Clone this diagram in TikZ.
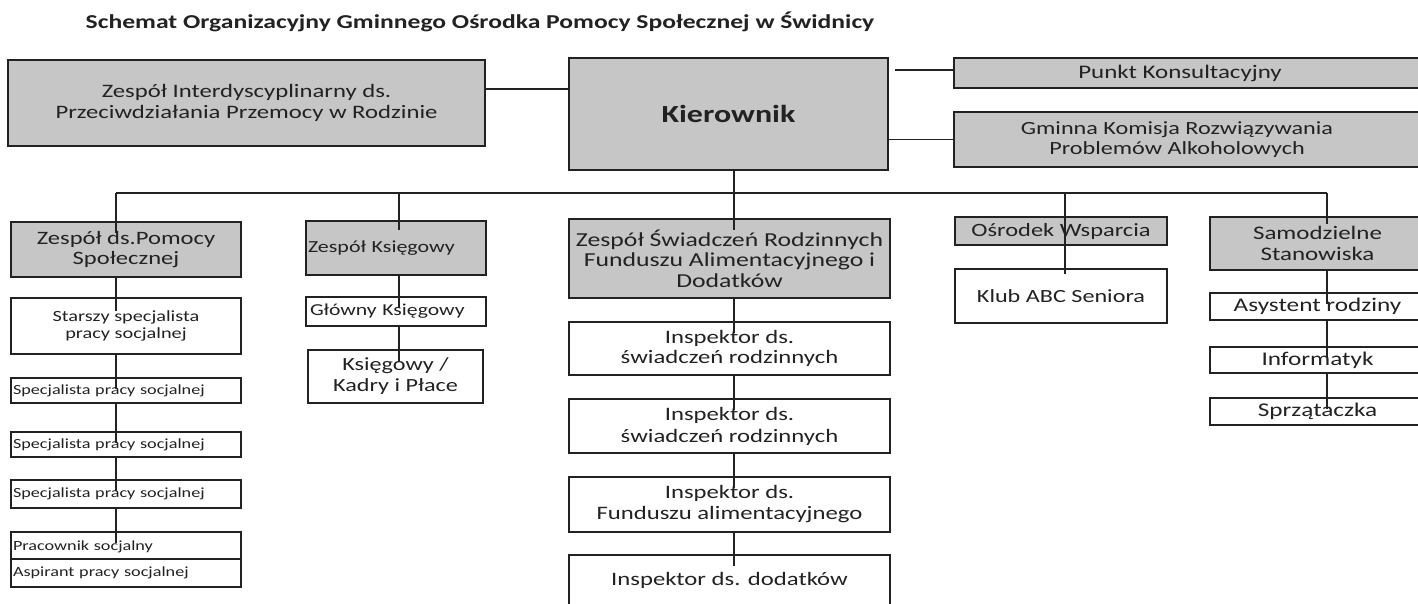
\documentclass[tikz,border=0pt]{standalone}
\usepackage{fontspec}
\setmainfont{Carlito}[FakeStretch=1.3]
\usetikzlibrary{calc}
\newcommand\fz[2]{\fontsize{#1}{#2}\selectfont}
\definecolor{boxgray}{RGB}{198,198,198}
\definecolor{ink}{RGB}{34,34,34}
\tikzset{
  box/.style={draw=ink, line width=2.8pt, inner sep=0pt, align=center, text=ink},
  gbox/.style={box, fill=boxgray},
  wbox/.style={box, fill=white},
  lbox/.style={wbox, align=left, inner xsep=2pt},
  conn/.style={draw=ink, line width=1.3pt},
}
\begin{document}
\begin{tikzpicture}[x=1pt,y=-1pt]
\useasboundingbox (0,0) rectangle (1418,604);
\clip (0,0) rectangle (1418,604);
\fill[white] (0,0) rectangle (1418,604);
\node[text=ink, font={\fz{19.7}{22}\bfseries}] (title) at (480,22) {Schemat Organizacyjny Gminnego Ośrodka Pomocy Społecznej w Świdnicy};

% top row
\node[gbox, minimum width=477pt, minimum height=86pt, font={\fz{19}{21}}] (zi) at (246.5,103) {Zespół Interdyscyplinarny ds.\\Przeciwdziałania Przemocy w Rodzinie};
\node[gbox, minimum width=319pt, minimum height=112pt, font={\fz{24.6}{28}\bfseries}] (kier) at (728.5,114) {Kierownik};
\node[gbox, minimum width=470pt, minimum height=30pt, font={\fz{19.2}{22}}] (pk) at (1189,73) {\hspace*{-18pt}Punkt Konsultacyjny};
\node[gbox, minimum width=470pt, minimum height=55pt, font={\fz{18.6}{20}}] (gk) at (1189,139.5) {\hspace*{-24pt}Gminna Komisja Rozwiązywania\\\hspace*{-24pt}Problemów Alkoholowych};

% column 1
\node[gbox, minimum width=230pt, minimum height=55pt, font={\fz{18.9}{20}}] (zdsp) at (126,249.5) {Zespół ds.Pomocy\\Społecznej};
\node[wbox, minimum width=230pt, minimum height=56pt, font={\fz{15.6}{17}}] (star) at (126,326) {Starszy specjalista\\pracy socjalnej};
\node[lbox, text width=226pt, minimum height=25pt, font={\fz{14}{16}}] (sp1) at (126,390.5) {Specjalista pracy socjalnej};
\node[lbox, text width=226pt, minimum height=25pt, font={\fz{14}{16}}] (sp2) at (126,444.5) {Specjalista pracy socjalnej};
\node[lbox, text width=226pt, minimum height=28pt, font={\fz{14}{16}}] (sp3) at (126,494) {Specjalista pracy socjalnej};
\node[lbox, text width=226pt, minimum height=55pt, font={\fz{14}{26}}] (prac) at (126,559.5) {Pracownik socjalny\\Aspirant pracy socjalnej};
\draw[draw=ink, line width=2pt] ($(prac.west)+(0,-1)$) -- ($(prac.east)+(0,-1)$);

% column 2
\node[gbox, align=left, inner xsep=2pt, text width=176pt, minimum height=54pt, font={\fz{16.9}{19}}] (zk) at (396,248) {Zespół Księgowy};
\node[lbox, inner xsep=4pt, text width=172pt, minimum height=29pt, font={\fz{16.7}{19}}] (glk) at (396,311.5) {Główny Księgowy};
\node[wbox, minimum width=175pt, minimum height=53pt, font={\fz{18.6}{21}}] (kkp) at (395.5,376.5) {Księgowy /\\Kadry i Płace};

% column 3
\node[gbox, minimum width=321pt, minimum height=79pt, font={\fz{19.8}{20.5}}] (zsr) at (729.5,258.5) {Zespół Świadczeń Rodzinnych\\Funduszu Alimentacyjnego i\\Dodatków};
\node[wbox, minimum width=321pt, minimum height=53pt, font={\fz{19}{20}}] (i1) at (729.5,348.5) {Inspektor ds.\\świadczeń rodzinnych};
\node[wbox, minimum width=321pt, minimum height=54pt, font={\fz{19}{22}}] (i2) at (729.5,426) {Inspektor ds.\\świadczeń rodzinnych};
\node[wbox, minimum width=321pt, minimum height=55pt, font={\fz{19}{21}}] (i3) at (729.5,504.5) {Inspektor ds.\\Funduszu alimentacyjnego};
\node[wbox, minimum width=321pt, minimum height=54pt, font={\fz{19}{21}}] (i4) at (729.5,582) {\raisebox{6pt}{Inspektor ds. dodatków}};

% column 4
\node[gbox, minimum width=212pt, minimum height=28pt, font={\fz{18.8}{21}}] (osw) at (1061,231) {Ośrodek Wsparcia};
\node[wbox, minimum width=212pt, minimum height=54pt, font={\fz{18.6}{21}}] (klub) at (1061,296) {Klub ABC Seniora};

% column 5
\node[gbox, minimum width=215pt, minimum height=53pt, font={\fz{19.2}{21}}] (samo) at (1317.5,243.5) {Samodzielne\\Stanowiska};
\node[wbox, minimum width=215pt, minimum height=27pt, font={\fz{19.4}{21}}] (asy) at (1317.5,306.5) {Asystent rodziny};
\node[wbox, minimum width=215pt, minimum height=26pt, font={\fz{19.4}{21}}] (inf) at (1317.5,360) {Informatyk};
\node[wbox, minimum width=215pt, minimum height=27pt, font={\fz{19.4}{21}}] (spr) at (1317.5,411.5) {Sprzątaczka};

% bus coordinates
\coordinate (h1) at (0,89);
\coordinate (b1) at (116,193);
\coordinate (b2) at (399,193);
\coordinate (b3) at (734,193);
\coordinate (b4) at (1065,193);
\coordinate (b5) at (1327,193);

% top connectors
\draw[conn] (zi.east |- h1) -- (kier.west |- h1);
\draw[conn] ($(kier.east |- pk.west)+(6,-3)$) -- ($(pk.west)+(0,-3)$);
\draw[conn] (kier.east |- gk.west) -- (gk.west);
\draw[conn] (kier.south -| b3) -- (b3);
\draw[conn] (b1) -- (b5);

% drops
\draw[conn] (b1) -- ($(zdsp.north -| b1)+(0,12)$);
\draw[conn] (b2) -- ($(zk.north -| b2)+(0,10)$);
\draw[conn] (b3) -- ($(zsr.north -| b3)+(0,12)$);
\draw[conn] (b4) -- ($(klub.north -| b4)+(0,6)$);
\draw[conn] (b5) -- ($(samo.north -| b5)+(0,8)$);

% column 1 chain
\draw[conn] (zdsp.south -| b1) -- ($(star.north -| b1)+(0,14)$);
\draw[conn] (star.south -| b1) -- ($(sp1.north -| b1)+(0,12)$);
\draw[conn] (sp1.south -| b1) -- ($(sp2.north -| b1)+(0,12)$);
\draw[conn] (sp2.south -| b1) -- ($(sp3.north -| b1)+(0,12)$);
\draw[conn] (sp3.south -| b1) -- ($(prac.north -| b1)+(0,12)$);

% column 2 chain
\draw[conn] (zk.south -| b2) -- ($(glk.north -| b2)+(0,12)$);
\draw[conn] (glk.south -| b2) -- ($(kkp.north -| b2)+(0,12)$);

% column 3 chain
\draw[conn] (zsr.south -| b3) -- ($(i1.north -| b3)+(0,12)$);
\draw[conn] (i1.south -| b3) -- ($(i2.north -| b3)+(0,12)$);
\draw[conn] (i2.south -| b3) -- ($(i3.north -| b3)+(0,12)$);
\draw[conn] (i3.south -| b3) -- ($(i4.north -| b3)+(0,12)$);

% column 5 chain
\draw[conn] (samo.south -| b5) -- ($(asy.north -| b5)+(0,12)$);
\draw[conn] (asy.south -| b5) -- ($(inf.north -| b5)+(0,12)$);
\draw[conn] (inf.south -| b5) -- ($(spr.north -| b5)+(0,12)$);
\end{tikzpicture}
\end{document}
